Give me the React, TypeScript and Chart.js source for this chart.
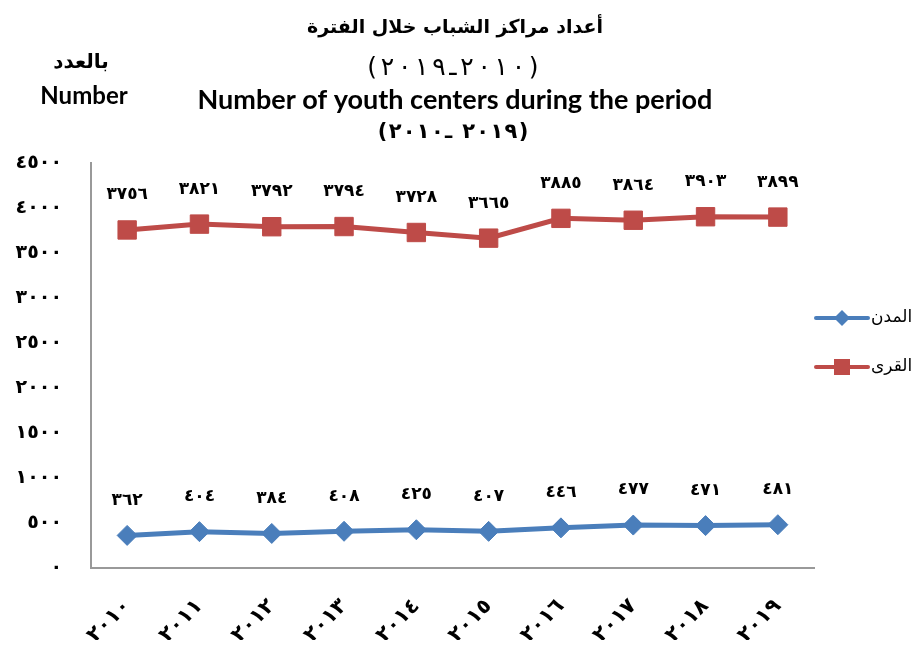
import React, { useEffect, useRef } from "react";
import { Chart, registerables } from "chart.js";

Chart.register(...registerables);

const years = ["2010", "2011", "2012", "2013", "2014", "2015", "2016", "2017", "2018", "2019"];
const cities = [362, 404, 384, 408, 425, 407, 446, 477, 471, 481];
const villages = [3756, 3821, 3792, 3794, 3728, 3665, 3885, 3864, 3903, 3899];
const yTicks = [0, 500, 1000, 1500, 2000, 2500, 3000, 3500, 4000, 4500];
const seriesNames = ["المدن", "القرى"];
// lines 2 and 4 are stored in visual (left-to-right) order
const titleLines = [
  "أعداد مراكز الشباب خلال الفترة",
  "(٢٠١٩ـ٢٠١٠)",
  "Number of youth centers during the period",
  "(٢٠١٠ـ ٢٠١٩)",
];
const unitLines = ["بالعدد", "Number"];

const BLUE = "#4A7EBB";
const RED = "#BE4B48";
const ARFONT = "'DejaVu Sans', 'Liberation Serif', serif";
const ENFONT = "Lato, 'Open Sans', sans-serif";

const toArabicDigits = (s: string | number) =>
  String(s).replace(/[0-9]/g, (d) => "٠١٢٣٤٥٦٧٨٩"[Number(d)]);

function drawVisual(ctx: any, text: string, cx: number, y: number, spacing: number) {
  const chars = Array.from(text);
  const widths = chars.map((c) => ctx.measureText(c).width);
  const total = widths.reduce((a, b) => a + b, 0) + spacing * (chars.length - 1);
  let x = cx - total / 2;
  ctx.textAlign = "left";
  chars.forEach((c, i) => {
    ctx.fillText(c, x, y);
    x += widths[i] + spacing;
  });
  ctx.textAlign = "center";
}

const spacingPlugin = {
  id: "spacing",
  beforeDraw(chart: any) {
    chart.ctx.letterSpacing = "2px";
  },
};

const overlayPlugin = {
  id: "overlay",
  afterDraw(chart: any) {
    const ctx = chart.ctx;
    ctx.save();
    ctx.fillStyle = "#000";
    ctx.textAlign = "center";
    ctx.textBaseline = "middle";
    ctx.direction = "ltr";
    // titles
    ctx.letterSpacing = "0px";
    ctx.font = `bold 19px ${ARFONT}`;
    ctx.fillText(titleLines[0], 447, 20);
    ctx.font = `25px ${ARFONT}`;
    drawVisual(ctx, titleLines[1], 445, 60, 3.7);
    ctx.font = `bold 27px ${ENFONT}`;
    ctx.fillText(titleLines[2], 447, 92);
    ctx.font = `bold 21px ${ARFONT}`;
    drawVisual(ctx, titleLines[3], 445, 125, 1.3);
    // unit
    ctx.font = `bold 20px ${ARFONT}`;
    ctx.fillText(unitLines[0], 73, 55);
    ctx.font = `bold 24px ${ENFONT}`;
    ctx.fillText(unitLines[1], 76, 88);

    // data labels
    ctx.letterSpacing = "1px";
    ctx.font = `bold 17px ${ARFONT}`;
    chart.data.datasets.forEach((ds: any, i: number) => {
      const meta = chart.getDatasetMeta(i);
      meta.data.forEach((pt: any, j: number) => {
        ctx.fillText(toArabicDigits(ds.data[j]), pt.x, pt.y - 35);
      });
    });

    // legend
    ctx.letterSpacing = "0px";
    const items = [
      { name: seriesNames[0], color: BLUE, style: "rectRot", y: 310 },
      { name: seriesNames[1], color: RED, style: "rect", y: 359 },
    ];
    items.forEach((it) => {
      ctx.strokeStyle = it.color;
      ctx.lineWidth = 4;
      ctx.lineCap = "round";
      ctx.beginPath();
      ctx.moveTo(808, it.y);
      ctx.lineTo(860, it.y);
      ctx.stroke();
      ctx.fillStyle = it.color;
      if (it.style === "rect") {
        ctx.fillRect(834 - 8, it.y - 8, 16, 16);
      } else {
        ctx.beginPath();
        ctx.moveTo(834 - 8, it.y);
        ctx.lineTo(834, it.y - 8);
        ctx.lineTo(834 + 8, it.y);
        ctx.lineTo(834, it.y + 8);
        ctx.closePath();
        ctx.fill();
      }
      ctx.fillStyle = "#000";
      ctx.textAlign = "left";
      ctx.font = `17px ${ARFONT}`;
      ctx.fillText(it.name, 863, it.y);
    });
    ctx.restore();
  },
};

export default function App() {
  const ref = useRef<HTMLCanvasElement | null>(null);
  useEffect(() => {
    if (!ref.current) return;
    const chart = new Chart(ref.current, {
      type: "line",
      data: {
        labels: years.map(toArabicDigits),
        datasets: [
          {
            label: seriesNames[0],
            data: cities,
            borderColor: BLUE,
            backgroundColor: BLUE,
            borderWidth: 5,
            pointStyle: "rectRot",
            pointRadius: 10,
            pointBorderWidth: 1,
            pointBackgroundColor: BLUE,
            pointBorderColor: BLUE,
            tension: 0,
          },
          {
            label: seriesNames[1],
            data: villages,
            borderColor: RED,
            backgroundColor: RED,
            borderWidth: 5,
            pointStyle: "rect",
            pointRadius: 13,
            pointBorderWidth: 1,
            pointBackgroundColor: RED,
            pointBorderColor: RED,
            tension: 0,
          },
        ],
      },
      options: {
        animation: false,
        responsive: true,
        maintainAspectRatio: false,
        layout: { padding: { left: 0, right: 100, top: 155, bottom: 0 } },
        plugins: {
          legend: { display: false },
          title: { display: false },
          tooltip: { enabled: false },
        },
        scales: {
          x: {
            offset: true,
            grid: { display: false, drawTicks: false },
            border: { display: true, color: "#999", width: 2 },
            ticks: {
              color: "#000",
              font: { family: ARFONT, size: 21, weight: "bold" },
              minRotation: 45,
              maxRotation: 45,
              padding: 26,
            },
            afterFit(scale: any) {
              scale.height = 72;
            },
          },
          y: {
            min: 0,
            max: 4500,
            afterBuildTicks(scale: any) {
              scale.ticks = yTicks.map((v) => ({ value: v }));
            },
            grid: { display: false, drawTicks: false },
            border: { display: true, color: "#999", width: 2 },
            ticks: {
              color: "#000",
              font: { family: ARFONT, size: 19, weight: "bold" },
              padding: 29,
              callback: (v: any) => toArabicDigits(v),
            },
            afterFit(scale: any) {
              scale.width = 83;
            },
          },
        },
      },
      plugins: [spacingPlugin, overlayPlugin],
    });
    return () => chart.destroy();
  }, []);
  return (
    <div style={{ width: 906, height: 632, position: "relative" }}>
      <canvas ref={ref} />
    </div>
  );
}
